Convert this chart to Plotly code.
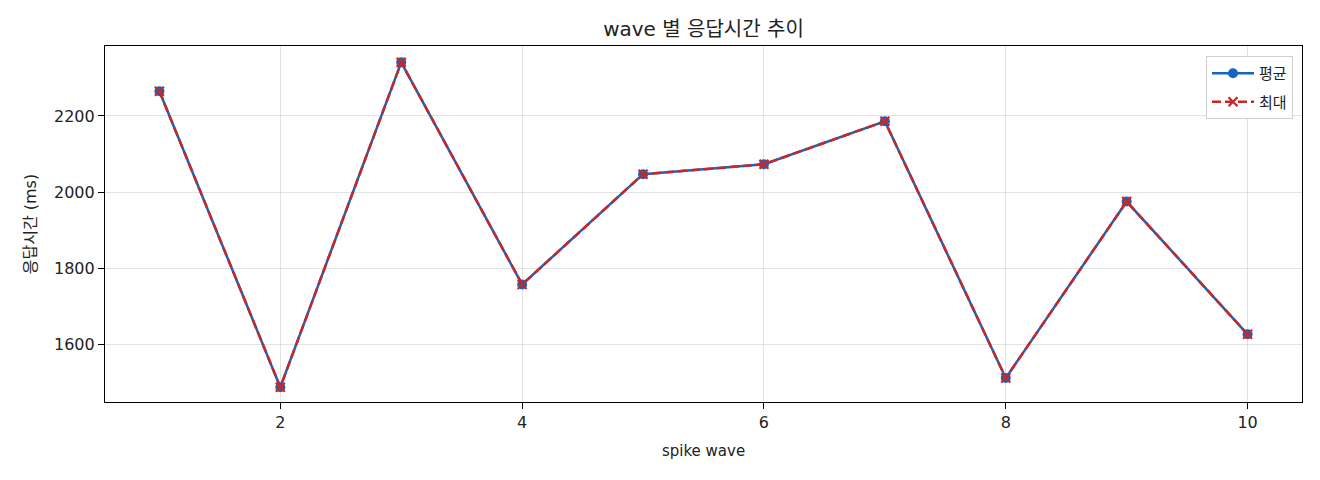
import plotly.graph_objects as go

# spike wave 별 응답시간 (ms)
waves = [1, 2, 3, 4, 5, 6, 7, 8, 9, 10]
avg_ms = [2265, 1487, 2341, 1757, 2047, 2073, 2186, 1511, 1975, 1626]
max_ms = [2265, 1487, 2341, 1757, 2047, 2073, 2186, 1511, 1975, 1626]

FONT = "DejaVu Sans, Noto Sans CJK KR"

fig = go.Figure()
fig.add_trace(go.Scatter(
    x=waves, y=avg_ms, name="평균", mode="lines+markers", legendgroup="a",
    line=dict(color="#1565C0", width=2.5),
    marker=dict(symbol="circle", size=10, color="#1565C0"),
))
fig.add_trace(go.Scatter(
    x=waves, y=max_ms, name="최대", mode="lines+markers", legendgroup="b",
    line=dict(color="#C62828", width=2.5, dash="9px,4px"),
    marker=dict(symbol="x-thin", size=9, color="#C62828",
                line=dict(color="#C62828", width=2.2)),
))

axis_common = dict(
    showline=True, linecolor="black", linewidth=1.2, mirror=True,
    ticks="outside", ticklen=6, tickcolor="black", tickwidth=1.2,
    showgrid=True, gridcolor="rgba(176,176,176,0.35)", gridwidth=1,
    zeroline=False, tickfont=dict(size=16, color="#222"),
)

# page body has an 8px margin, so the margins are shifted by that much
fig.update_layout(
    width=1320, height=480,
    margin=dict(l=97, r=26, t=38, b=86),
    paper_bgcolor="white", plot_bgcolor="white",
    font=dict(family=FONT, color="#222"),
    title=dict(text="wave 별 응답시간 추이", x=0.5, xanchor="center",
               xref="paper", y=0.956, yanchor="middle", font=dict(size=20)),
    xaxis=dict(range=[0.55, 10.45], tickvals=[2, 4, 6, 8, 10],
               title=dict(text="spike wave", font=dict(size=15), standoff=14),
               **axis_common),
    yaxis=dict(range=[1448, 2384], tickvals=[1600, 1800, 2000, 2200],
               title=dict(text="응답시간 (ms)", font=dict(size=16), standoff=13),
               **axis_common),
    legend=dict(x=0.9925, y=0.972, xanchor="right", yanchor="top",
                bgcolor="white", bordercolor="#d0d0d0", borderwidth=1,
                font=dict(size=15), itemwidth=42, tracegroupgap=6),
    showlegend=True,
)

fig.write_html("out.html")
